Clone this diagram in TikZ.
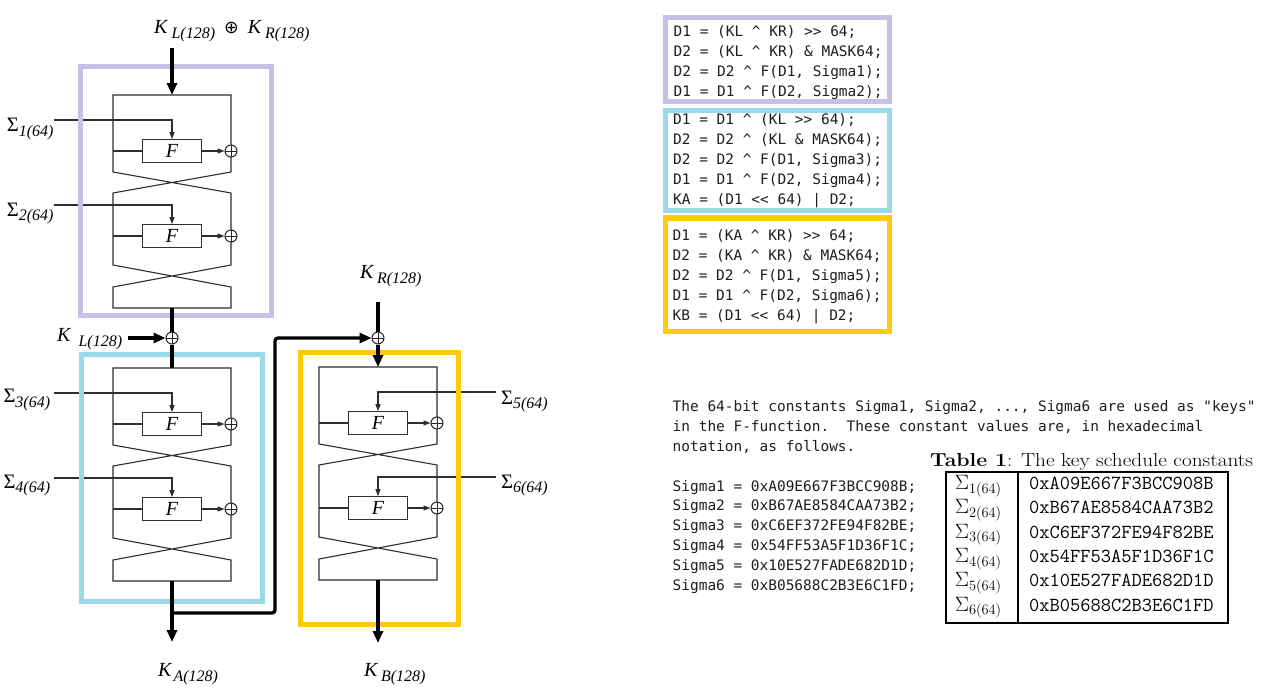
\documentclass[tikz,border=0pt]{standalone}
\usepackage{fontspec}
\usetikzlibrary{arrows.meta}
\newfontfamily\tnr{Liberation Serif}
\newfontfamily\dcode{DejaVu Sans Mono}
\newfontfamily\djs{DejaVu Sans}
\definecolor{lav}{HTML}{C8BFE7}
\definecolor{turq}{HTML}{99D9EA}
\definecolor{gold}{HTML}{FFC90E}
\definecolor{codecol}{HTML}{1E1E1E}
\newcommand{\crt}{\char94\relax}
\newcommand{\keylab}[2]{{\tnr\itshape\fontsize{20}{24}\selectfont K}\hspace{#1}\raisebox{-5pt}{\tnr\itshape\fontsize{16}{19}\selectfont #2}}
\newcommand{\siglab}[1]{{\tnr\fontsize{20.5}{24}\selectfont Σ}\raisebox{-4.5pt}{\tnr\itshape\fontsize{16}{19}\selectfont #1}}
\tikzset{
  thinln/.style={line width=1.1pt, draw=black!82},
  thk/.style={line width=3.3pt, draw=black},
  bigarrow/.style={-{Triangle[width=10pt,length=12pt]}},
  smallarrow/.style={-{Triangle[width=5pt,length=7pt]}},
  ffunc/.style={draw=black!82, line width=1.2pt, minimum width=59pt, minimum height=22.5pt, inner sep=0pt, font=\tnr\itshape\fontsize{20}{24}\selectfont},
  xorop/.style={circle, draw=black!85, line width=1pt, fill=white, minimum size=12pt, inner sep=0pt,
    path picture={\draw[line width=1pt, black!85] (path picture bounding box.north)--(path picture bounding box.south) (path picture bounding box.west)--(path picture bounding box.east);}},
  codetxt/.style={anchor=base west, inner sep=0pt, text=codecol, font=\dcode\frenchspacing\fontsize{14.45}{17}\selectfont},
  lbl/.style={anchor=base west, inner sep=0pt},
  cbox/.style={line width=5pt},
  tabtxt/.style={anchor=base west, inner sep=0pt, font=\fontsize{19.9}{24}\selectfont},
  hextxt/.style={tabtxt, font=\ttfamily\fontsize{19.9}{24}\selectfont},
}
\newcommand{\fblock}[4]{%
  \begin{scope}[shift={(#2,#3)}]
    \coordinate (#1top) at (0,0);
    \coordinate (#1bot) at (0,213);
    \node[ffunc] (#1fa) at (0,56) {F};
    \node[ffunc] (#1fb) at (0,141) {F};
    \draw[thinln] (-59,77) -- (-59,0) -- (59,0) -- (59,77) -- (-59,98) -- (-59,170) -- (59,192) -- (59,213) -- (-59,213) -- (-59,192) -- (59,170) -- (59,98) -- cycle;
    \node[xorop] (#1xa) at (59,56) {};
    \node[xorop] (#1xb) at (59,141) {};
    \draw[thinln] (-59,56) -- (#1fa.west);
    \draw[thinln] (-59,141) -- (#1fb.west);
    \draw[thinln,smallarrow] (#1fa.east) -- (#1xa.west);
    \draw[thinln,smallarrow] (#1fb.east) -- (#1xb.west);
    \coordinate (#1sa) at (#4*118,25);
    \coordinate (#1sb) at (#4*118,110);
    \draw[thinln,smallarrow] (#1sa) -- (0,25) -- (#1fa.north);
    \draw[thinln,smallarrow] (#1sb) -- (0,110) -- (#1fb.north);
  \end{scope}}
\begin{document}
\begin{tikzpicture}[x=1pt,y=-1pt]
\fill[white] (0,0) rectangle (1269,696);
\useasboundingbox (0,0) rectangle (1269,696);

% Feistel blocks
\fblock{A}{172}{95}{-1}
\fblock{B}{172}{368}{-1}
\fblock{C}{378}{367}{1}

% coloured frames
\draw[cbox, lav] (80.5,66.7) rectangle (271,315);
\draw[cbox, turq] (81.7,354.5) rectangle (262,601.5);
\draw[cbox, gold] (300,352.5) rectangle (458.3,624);

% thick connectors
\coordinate (kin) at (172,48);
\draw[thk,bigarrow] (kin) -- (Atop);
\node[xorop] (xl) at (172,338) {};
\draw[thk] (Abot) -- (xl.north);
\draw[thk] (xl.south) -- (Btop);
\coordinate (klin) at (128,338);
\draw[thk,bigarrow] (klin) -- (xl.west);
\coordinate (kaout) at (172,642);
\draw[thk,bigarrow] (Bbot) -- (kaout);
\coordinate (brst) at (172,613);
\node[xorop] (xr) at (378,338) {};
\draw[thk,bigarrow,rounded corners=3pt] (brst) -- (275,613) -- (275,338) -- (xr.west);
\coordinate (krin) at (378,302);
\draw[thk] (krin) -- (xr.north);
\draw[thk,bigarrow] (xr.south) -- (Ctop);
\coordinate (kbout) at (378,643);
\draw[thk,bigarrow] (Cbot) -- (kbout);

% labels
\node[lbl] (ktop) at (154,34) {\keylab{4pt}{L(128)}\hspace{9pt}\raisebox{0pt}{\djs\fontsize{17.5}{20}\selectfont ⊕}\hspace{9pt}\keylab{4pt}{R(128)}};
\node[lbl] (kl) at (57,341) {\keylab{8pt}{L(128)}};
\node[lbl] (kr) at (360,278) {\keylab{3.5pt}{R(128)}};
\node[lbl] (ka) at (158,676.5) {\keylab{2pt}{A(128)}};
\node[lbl] (kb) at (364,676.5) {\keylab{3.5pt}{B(128)}};
\node[lbl] (s1) at (6.7,131.7) {\siglab{1(64)}};
\node[lbl] (s2) at (6.7,216) {\siglab{2(64)}};
\node[lbl] (s3) at (3.3,402.5) {\siglab{3(64)}};
\node[lbl] (s4) at (3.3,488) {\siglab{4(64)}};
\node[lbl] (s5) at (501,404) {\siglab{5(64)}};
\node[lbl] (s6) at (501,488) {\siglab{6(64)}};

% code boxes
\draw[cbox, lav] (665.5,17.5) rectangle (889.5,101.5);
\draw[cbox, turq] (665.5,110) rectangle (889.5,210.5);
\draw[cbox, gold, line width=5.5pt] (665.5,218) rectangle (889.5,331.5);

\node[codetxt] (c1) at (673.5,36.7) {D1 = (KL \crt{} KR) >> 64;};
\node[codetxt] (c2) at (673.5,56.7) {D2 = (KL \crt{} KR) \& MASK64;};
\node[codetxt] (c3) at (673.5,76.7) {D2 = D2 \crt{} F(D1, Sigma1);};
\node[codetxt] (c4) at (673.5,96.7) {D1 = D1 \crt{} F(D2, Sigma2);};

\node[codetxt] (c5) at (673,124.3) {D1 = D1 \crt{} (KL >> 64);};
\node[codetxt] (c6) at (673,144.3) {D2 = D2 \crt{} (KL \& MASK64);};
\node[codetxt] (c7) at (673,164.3) {D2 = D2 \crt{} F(D1, Sigma3);};
\node[codetxt] (c8) at (673,184.3) {D1 = D1 \crt{} F(D2, Sigma4);};
\node[codetxt] (c9) at (673,204.3) {KA = (D1 << 64) | D2;};

\node[codetxt] (c10) at (672.5,240.7) {D1 = (KA \crt{} KR) >> 64;};
\node[codetxt] (c11) at (672.5,260.7) {D2 = (KA \crt{} KR) \& MASK64;};
\node[codetxt] (c12) at (672.5,280.7) {D2 = D2 \crt{} F(D1, Sigma5);};
\node[codetxt] (c13) at (672.5,300.7) {D1 = D1 \crt{} F(D2, Sigma6);};
\node[codetxt] (c14) at (672.5,320.7) {KB = (D1 << 64) | D2;};

% paragraph
\node[codetxt] (p1) at (672.5,411) {The 64-bit constants Sigma1, Sigma2, ..., Sigma6 are used as "keys"};
\node[codetxt] (p2) at (672.5,431) {in the F-function.~~These constant values are, in hexadecimal};
\node[codetxt] (p3) at (672.5,451) {notation, as follows.};

\node[codetxt] (q1) at (672.5,491) {Sigma1 = 0xA09E667F3BCC908B;};
\node[codetxt] (q2) at (672.5,510.8) {Sigma2 = 0xB67AE8584CAA73B2;};
\node[codetxt] (q3) at (672.5,530.6) {Sigma3 = 0xC6EF372FE94F82BE;};
\node[codetxt] (q4) at (672.5,550.4) {Sigma4 = 0x54FF53A5F1D36F1C;};
\node[codetxt] (q5) at (672.5,570.2) {Sigma5 = 0x10E527FADE682D1D;};
\node[codetxt] (q6) at (672.5,590) {Sigma6 = 0xB05688C2B3E6C1FD;};

% table
\node[lbl, font=\fontsize{18.8}{22}\selectfont] (cap) at (930,466) {\scalebox{1.13}[1]{\textbf{Table 1}: The key schedule constants}};
\draw[line width=2.5pt] (946,472) rectangle (1228,623);
\draw[line width=2pt] (1017.5,472) -- (1017.5,623);
\node[tabtxt] (t1a) at (955,489.5) {$\Sigma_{1(64)}$};
\node[tabtxt] (t2a) at (955,513.85) {$\Sigma_{2(64)}$};
\node[tabtxt] (t3a) at (955,538.2) {$\Sigma_{3(64)}$};
\node[tabtxt] (t4a) at (955,562.55) {$\Sigma_{4(64)}$};
\node[tabtxt] (t5a) at (955,586.9) {$\Sigma_{5(64)}$};
\node[tabtxt] (t6a) at (955,611.25) {$\Sigma_{6(64)}$};
\node[hextxt] (t1b) at (1029,489.5) {0xA09E667F3BCC908B};
\node[hextxt] (t2b) at (1029,513.85) {0xB67AE8584CAA73B2};
\node[hextxt] (t3b) at (1029,538.2) {0xC6EF372FE94F82BE};
\node[hextxt] (t4b) at (1029,562.55) {0x54FF53A5F1D36F1C};
\node[hextxt] (t5b) at (1029,586.9) {0x10E527FADE682D1D};
\node[hextxt] (t6b) at (1029,611.25) {0xB05688C2B3E6C1FD};
\end{tikzpicture}
\end{document}
